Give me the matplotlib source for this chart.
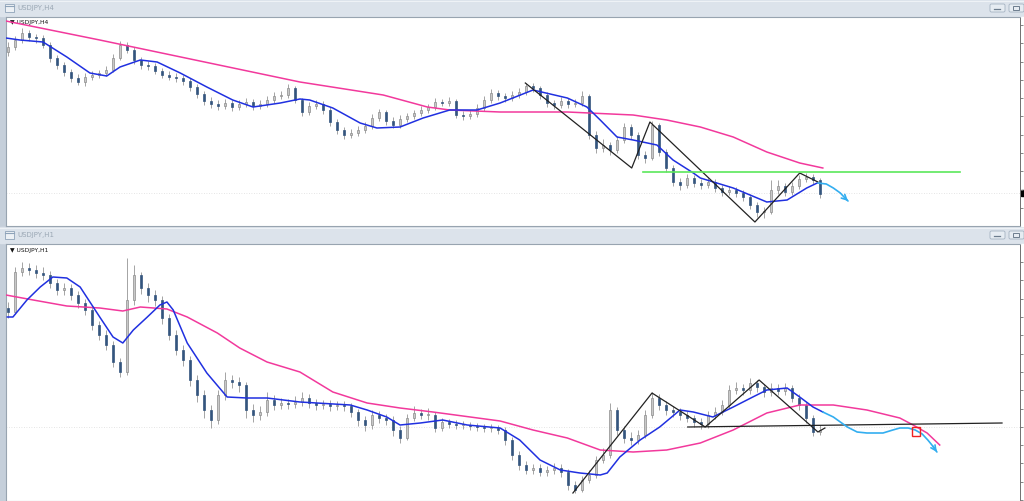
import numpy as np
import matplotlib
matplotlib.use('Agg')
import matplotlib.pyplot as plt
from matplotlib.patches import Rectangle, FancyBboxPatch

# ---------------- H4 window data (USDJPY) ----------------
h4_open0 = 116.48
h4_close = [116.53, 116.60, 116.67, 116.63, 116.62, 116.55, 116.42, 116.35, 116.28, 116.22,
            116.18, 116.23, 116.25, 116.27, 116.30, 116.42, 116.55, 116.50, 116.40, 116.35,
            116.34, 116.29, 116.25, 116.23, 116.22, 116.19, 116.13, 116.06, 115.99, 115.96,
            115.94, 115.97, 115.93, 115.96, 115.98, 115.94, 115.96, 116.00, 116.04, 116.05,
            116.12, 116.00, 115.88, 115.94, 115.96, 115.90, 115.78, 115.70, 115.65, 115.67,
            115.70, 115.74, 115.82, 115.88, 115.79, 115.75, 115.81, 115.84, 115.87, 115.90,
            115.93, 115.98, 115.97, 115.99, 115.85, 115.84, 115.86, 115.92, 116.00, 116.07,
            116.04, 116.02, 116.05, 116.08, 116.14, 116.12, 116.05, 115.97, 115.95, 115.99,
            115.96, 115.97, 116.04, 115.65, 115.52, 115.55, 115.50, 115.60, 115.73, 115.65,
            115.45, 115.42, 115.75, 115.48, 115.32, 115.18, 115.15, 115.22, 115.17, 115.15,
            115.18, 115.12, 115.08, 115.10, 115.07, 115.03, 114.95, 114.88, 114.88, 115.10,
            115.14, 115.08, 115.14, 115.21, 115.23, 115.20, 115.06]
h4_high = [116.58, 116.64, 116.72, 116.70, 116.66, 116.65, 116.58, 116.45, 116.38, 116.31,
           116.26, 116.27, 116.29, 116.30, 116.34, 116.46, 116.59, 116.58, 116.53, 116.43,
           116.39, 116.37, 116.32, 116.29, 116.27, 116.25, 116.22, 116.16, 116.09, 116.03,
           116.00, 116.01, 116.00, 116.00, 116.02, 116.01, 116.00, 116.04, 116.08, 116.09,
           116.16, 116.14, 116.02, 115.98, 116.00, 115.99, 115.93, 115.81, 115.73, 115.71,
           115.74, 115.78, 115.86, 115.91, 115.90, 115.83, 115.85, 115.87, 115.90, 115.94,
           115.96, 116.02, 116.01, 116.03, 116.01, 115.89, 115.90, 115.96, 116.04, 116.11,
           116.10, 116.07, 116.09, 116.12, 116.17, 116.17, 116.14, 116.08, 116.00, 116.03,
           116.02, 116.01, 116.09, 116.06, 115.69, 115.61, 115.58, 115.64, 115.77, 115.76,
           115.68, 115.49, 115.79, 115.77, 115.51, 115.35, 115.22, 115.26, 115.25, 115.21,
           115.22, 115.21, 115.15, 115.14, 115.13, 115.10, 115.06, 114.98, 114.93, 115.20,
           115.20, 115.17, 115.18, 115.25, 115.27, 115.26, 115.22]
h4_low = [116.44, 116.50, 116.57, 116.59, 116.57, 116.52, 116.38, 116.31, 116.24, 116.18,
          116.15, 116.14, 116.20, 116.22, 116.24, 116.28, 116.40, 116.47, 116.36, 116.31,
          116.30, 116.26, 116.22, 116.20, 116.18, 116.15, 116.09, 116.02, 115.95, 115.92,
          115.90, 115.91, 115.89, 115.90, 115.93, 115.90, 115.91, 115.93, 115.97, 116.01,
          116.02, 115.97, 115.84, 115.85, 115.91, 115.86, 115.74, 115.66, 115.61, 115.62,
          115.64, 115.67, 115.71, 115.79, 115.75, 115.72, 115.72, 115.78, 115.81, 115.84,
          115.87, 115.90, 115.94, 115.94, 115.82, 115.80, 115.81, 115.83, 115.89, 115.97,
          116.00, 115.98, 115.99, 116.02, 116.05, 116.08, 116.01, 115.93, 115.91, 115.92,
          115.92, 115.93, 115.94, 115.61, 115.47, 115.48, 115.45, 115.47, 115.57, 115.61,
          115.41, 115.37, 115.40, 115.44, 115.28, 115.14, 115.10, 115.12, 115.13, 115.11,
          115.12, 115.08, 115.04, 115.05, 115.03, 114.99, 114.91, 114.83, 114.82, 114.86,
          115.06, 115.04, 115.05, 115.11, 115.18, 115.16, 115.02]

# moving averages (bar index, price)
h4_slow_x = [-0.3, 13.1, 27.4, 41.7, 53.6, 59.9, 63.1, 70.3, 79.9, 89.3, 94.1, 98.9, 103.6, 108.4, 113.1, 116.4]
h4_slow = [116.79, 116.60, 116.39, 116.18, 116.05, 115.93, 115.90, 115.88, 115.88, 115.85, 115.80, 115.73,
           115.63, 115.48, 115.37, 115.32]
h4_fast_x = [-0.3, 1.7, 5.0, 8.4, 11.7, 14.1, 16.0, 18.9, 21.3, 24.6, 28.4, 32.1, 35.0, 38.9, 41.7, 43.1,
             46.4, 50.3, 52.7, 56.0, 59.3, 63.1, 67.0, 70.3, 75.0, 79.9, 82.7, 84.6, 87.0, 89.3, 92.7, 95.0,
             97.9, 98.9, 103.6, 108.4, 111.3, 114.1, 115.6]
h4_fast = [116.62, 116.60, 116.58, 116.43, 116.27, 116.24, 116.33, 116.40, 116.38, 116.27, 116.13, 116.00,
           115.93, 115.97, 116.01, 116.00, 115.92, 115.77, 115.72, 115.73, 115.82, 115.90, 115.90, 115.97,
           116.10, 116.02, 115.93, 115.80, 115.63, 115.60, 115.55, 115.40, 115.27, 115.22, 115.12, 114.98,
           115.00, 115.12, 115.17]

# drawings on the H4 chart
h4_zz_x = [73.9, 89.1, 91.7, 106.7, 113.1, 115.7]
h4_zz_y = [116.17, 115.32, 115.78, 114.78, 115.27, 115.18]
h4_level_x = [90.7, 136.0]
h4_level = 115.28
h4_arrow_x = [115.7, 116.9, 117.9, 118.9, 119.7, 120.0]
h4_arrow_y = [115.17, 115.16, 115.12, 115.07, 115.01, 114.99]
h4_last = 115.07

# ---------------- H1 window data ----------------
h1_open0 = 117.92
h1_close = [117.88, 118.28, 118.32, 118.30, 118.27, 118.25, 118.17, 118.10, 118.12, 118.05,
            117.97, 117.90, 117.75, 117.65, 117.55, 117.38, 117.28, 118.00, 118.25, 118.12,
            118.05, 118.00, 117.82, 117.65, 117.50, 117.40, 117.20, 117.05, 116.90, 116.80,
            117.05, 117.20, 117.18, 117.15, 116.90, 116.85, 116.88, 117.00, 116.95, 116.97,
            116.96, 116.98, 117.02, 116.97, 116.95, 116.96, 116.94, 116.95, 116.94, 116.88,
            116.80, 116.75, 116.85, 116.82, 116.80, 116.70, 116.62, 116.82, 116.87, 116.85,
            116.85, 116.72, 116.78, 116.76, 116.75, 116.75, 116.74, 116.73, 116.72, 116.72,
            116.70, 116.60, 116.45, 116.35, 116.30, 116.32, 116.28, 116.30, 116.32, 116.28,
            116.15, 116.10, 116.20, 116.25, 116.40, 116.45, 116.90, 116.70, 116.62, 116.60,
            116.65, 116.85, 117.02, 116.95, 116.90, 116.88, 116.85, 116.82, 116.78, 116.76,
            116.85, 116.88, 116.95, 117.10, 117.12, 117.10, 117.17, 117.13, 117.08, 117.12,
            117.09, 117.12, 117.02, 116.95, 116.82, 116.68, 116.70]
h1_high = [117.98, 118.33, 118.38, 118.37, 118.35, 118.33, 118.29, 118.21, 118.17, 118.16,
           118.09, 118.01, 117.94, 117.79, 117.70, 117.59, 117.42, 118.42, 118.35, 118.28,
           118.17, 118.10, 118.04, 117.86, 117.70, 117.55, 117.44, 117.25, 117.10, 116.95,
           117.10, 117.28, 117.25, 117.23, 117.18, 116.96, 116.94, 117.08, 117.05, 117.02,
           117.01, 117.04, 117.08, 117.06, 117.01, 117.00, 117.00, 116.99, 116.99, 116.97,
           116.91, 116.84, 116.90, 116.89, 116.86, 116.84, 116.74, 116.86, 116.94, 116.91,
           116.92, 116.88, 116.82, 116.81, 116.80, 116.79, 116.78, 116.77, 116.76, 116.76,
           116.75, 116.73, 116.63, 116.49, 116.39, 116.36, 116.36, 116.34, 116.37, 116.36,
           116.31, 116.19, 116.24, 116.30, 116.44, 116.52, 116.97, 116.93, 116.74, 116.68,
           116.70, 116.90, 117.08, 117.06, 116.99, 116.94, 116.92, 116.89, 116.85, 116.82,
           116.89, 116.93, 117.00, 117.15, 117.18, 117.16, 117.22, 117.20, 117.16, 117.17,
           117.16, 117.17, 117.15, 117.06, 116.98, 116.85, 116.75]
h1_low = [117.82, 117.86, 118.24, 118.25, 118.22, 118.20, 118.12, 118.05, 118.05, 118.00,
          117.92, 117.85, 117.70, 117.60, 117.50, 117.33, 117.23, 117.25, 117.95, 118.06,
          117.98, 117.94, 117.76, 117.60, 117.45, 117.34, 117.14, 116.98, 116.82, 116.72,
          116.76, 117.00, 117.12, 117.08, 116.82, 116.78, 116.80, 116.84, 116.90, 116.91,
          116.91, 116.92, 116.94, 116.92, 116.90, 116.91, 116.89, 116.90, 116.89, 116.83,
          116.74, 116.69, 116.71, 116.77, 116.75, 116.64, 116.57, 116.60, 116.79, 116.81,
          116.80, 116.68, 116.69, 116.72, 116.71, 116.71, 116.70, 116.69, 116.68, 116.68,
          116.66, 116.55, 116.40, 116.30, 116.26, 116.26, 116.24, 116.24, 116.26, 116.23,
          116.10, 116.07, 116.08, 116.17, 116.22, 116.37, 116.42, 116.65, 116.57, 116.55,
          116.56, 116.62, 116.82, 116.90, 116.85, 116.83, 116.80, 116.78, 116.73, 116.71,
          116.72, 116.81, 116.85, 116.92, 117.06, 117.05, 117.06, 117.08, 117.03, 117.04,
          117.05, 117.05, 116.98, 116.90, 116.77, 116.64, 116.65]

h1_slow_x = [-0.3, 3.6, 8.4, 13.1, 16.4, 18.9, 22.7, 25.6, 29.9, 33.1, 37.0, 41.7, 46.4, 51.3, 56.0, 60.7,
             70.3, 75.0, 79.9, 84.6, 89.3, 94.1, 98.9, 103.6, 108.4, 113.1, 117.9, 122.7, 127.4, 129.3,
             131.3, 133.1]
h1_slow = [118.05, 118.00, 117.94, 117.92, 117.89, 117.93, 117.91, 117.83, 117.67, 117.52, 117.38, 117.28,
           117.08, 116.97, 116.92, 116.88, 116.79, 116.70, 116.62, 116.50, 116.48, 116.50, 116.57, 116.70,
           116.87, 116.95, 116.95, 116.90, 116.82, 116.75, 116.67, 116.55]
h1_fast_x = [-0.1, 0.7, 2.7, 4.6, 6.4, 8.4, 10.3, 13.1, 15.0, 16.4, 17.9, 19.9, 21.7, 22.7, 23.6, 25.6,
             28.4, 31.3, 34.1, 37.0, 41.7, 48.9, 51.3, 54.1, 56.0, 58.9, 62.1, 65.6, 70.3, 73.1, 76.0, 78.9,
             81.7, 84.6, 85.6, 87.4, 90.3, 93.1, 96.0, 97.9, 100.7, 103.6, 106.4, 108.4, 111.3, 113.1,
             115.0, 116.4]
h1_fast = [117.83, 117.83, 118.00, 118.13, 118.23, 118.22, 118.13, 117.83, 117.63, 117.57, 117.70, 117.83,
           117.95, 117.98, 117.90, 117.57, 117.27, 117.03, 117.02, 117.02, 116.98, 116.95, 116.90, 116.83,
           116.75, 116.77, 116.80, 116.75, 116.72, 116.60, 116.40, 116.30, 116.27, 116.25, 116.27, 116.43,
           116.60, 116.73, 116.90, 116.88, 116.83, 116.93, 117.03, 117.10, 117.12, 117.03, 116.93, 116.88]

h1_zz_x = [80.7, 92.0, 99.6, 107.3, 115.7, 116.7]
h1_zz_y = [116.07, 117.07, 116.73, 117.20, 116.68, 116.72]
h1_neck_x = [97.1, 142.0]
h1_neck_y = [116.73, 116.77]
h1_arrow_x = [116.4, 117.9, 119.9, 121.3, 122.7, 125.0, 126.4, 127.4, 128.6, 129.6, 130.6, 131.4, 132.1, 132.7]
h1_arrow_y = [116.88, 116.83, 116.73, 116.68, 116.67, 116.67, 116.70, 116.72, 116.72, 116.70, 116.66, 116.60,
              116.54, 116.48]
h1_box = [129.1, 116.64, 1.15, 0.09]   # x, y, width, height
h1_last = 116.73

W, H = 1024, 501
BLUE = '#2030e0'
PINK = '#f2399c'
SKY = '#33aef0'


def place(x0, y0, x1, y1):
    # pixel box of the screenshot -> figure fraction
    return [x0 / W, 1 - y1 / H, (x1 - x0) / W, (y1 - y0) / H]


def candles(ax, open0, close, high, low):
    c = np.array(close)
    o = np.r_[open0, c[:-1]]
    x = np.arange(len(c))
    up = c >= o
    ax.vlines(x, low, high, color='#8c8c8c', lw=0.55, zorder=2)
    body = np.maximum(np.abs(c - o), 0.006)
    face = ['#c8c8c8' if u else '#34557e' for u in up]
    edge = ['#8c8c8c' if u else '#34557e' for u in up]
    ax.bar(x, body, bottom=np.minimum(o, c), width=0.38, color=face,
           edgecolor=edge, linewidth=0.5, zorder=3)


def style_chart(ax, ylim, ticks, label):
    ax.set_xlim(-0.29, 144.57)
    ax.set_ylim(*ylim)
    ax.set_facecolor('white')
    ax.set_xticks([])
    ax.yaxis.tick_right()
    ax.set_yticks(ticks)
    ax.tick_params(axis='y', direction='out', length=2.5, width=0.6,
                   colors='#707070', labelright=False)
    for s in ('left', 'top', 'bottom'):
        ax.spines[s].set_color('#98a4b0')
        ax.spines[s].set_linewidth(0.8)
    ax.spines['right'].set_color('#707070')
    ax.spines['right'].set_linewidth(0.7)
    ax.text(0.004, 0.985, '\u25bc ' + label, transform=ax.transAxes,
            fontsize=4.3, va='top', ha='left', color='#111111')


def sky_arrow(ax, xs, ys):
    ax.plot(xs, ys, color=SKY, lw=1.2, zorder=5, solid_capstyle='round')
    ax.annotate('', xy=(xs[-1], ys[-1]), xytext=(xs[-2], ys[-2]),
                arrowprops=dict(arrowstyle='->', color=SKY, lw=1.2,
                                mutation_scale=9, shrinkA=0, shrinkB=0), zorder=5)


fig = plt.figure(figsize=(W / 100, H / 100), dpi=100)

# window frames drawn in screen pixels
bg = fig.add_axes([0, 0, 1, 1])
bg.set_xlim(0, W)
bg.set_ylim(H, 0)
bg.axis('off')
bg.add_patch(Rectangle((0, 0), W, H, color='#c5cfda'))
for y0, name in ((0, 'USDJPY,H4'), (227, 'USDJPY,H1')):
    bg.add_patch(Rectangle((0, y0), W, 16, color='#dce3eb'))
    bg.plot([0, W], [y0 + 0.5, y0 + 0.5], color='#eef2f6', lw=0.8)
    bg.add_patch(Rectangle((5, y0 + 3.5), 9, 8, fc='#edf1f5', ec='#8ea3b9', lw=0.6))
    bg.plot([5, 14], [y0 + 5.5, y0 + 5.5], color='#8ea3b9', lw=0.8)
    bg.text(17, y0 + 8, name, fontsize=5, color='#9ba8b5', va='center', ha='left')
    for bx in (990, 1009):
        bg.add_patch(FancyBboxPatch((bx, y0 + 4), 15, 8,
                                    boxstyle='round,pad=0,rounding_size=1.5',
                                    fc='#e6ecf2', ec='#a5b3c2', lw=0.6))
    bg.plot([994, 1000], [y0 + 9, y0 + 9], color='#6d7d8e', lw=0.9)
    bg.add_patch(Rectangle((1013, y0 + 6), 6, 4, fc='none', ec='#6d7d8e', lw=0.7))
bg.add_patch(Rectangle((1020, 17), 4, 209, color='white'))
bg.add_patch(Rectangle((1020, 244), 4, 257, color='white'))
bg.add_patch(Rectangle((1021, 190), 3, 6, color='black'))

# ---------------- top chart: H4 ----------------
ax1 = fig.add_axes(place(6, 17, 1020, 226))
style_chart(ax1, (114.74, 116.83), np.linspace(114.92, 116.75, 11), 'USDJPY,H4')
ax1.axhline(h4_last, color='#dcdcdc', lw=0.6, ls=(0, (1, 2)), zorder=1)
candles(ax1, h4_open0, h4_close, h4_high, h4_low)
ax1.plot(h4_slow_x, h4_slow, color=PINK, lw=1.1, zorder=4)
ax1.plot(h4_fast_x, h4_fast, color=BLUE, lw=1.1, zorder=4)
ax1.plot(h4_zz_x, h4_zz_y, color='#222222', lw=0.9, zorder=5)
ax1.plot(h4_level_x, [h4_level, h4_level], color='#5be85b', lw=1.2, zorder=5)
sky_arrow(ax1, h4_arrow_x, h4_arrow_y)

# ---------------- bottom chart: H1 ----------------
ax2 = fig.add_axes(place(6, 244, 1020, 501))
style_chart(ax2, (115.99, 118.56), np.linspace(116.0, 116.0 + 13 * 0.183, 14), 'USDJPY,H1')
ax2.axhline(h1_last, color='#dcdcdc', lw=0.6, ls=(0, (1, 2)), zorder=1)
candles(ax2, h1_open0, h1_close, h1_high, h1_low)
ax2.plot(h1_slow_x, h1_slow, color=PINK, lw=1.1, zorder=4)
ax2.plot(h1_fast_x, h1_fast, color=BLUE, lw=1.1, zorder=4)
ax2.plot(h1_zz_x, h1_zz_y, color='#222222', lw=0.9, zorder=5)
ax2.plot(h1_neck_x, h1_neck_y, color='#222222', lw=0.9, zorder=5)
sky_arrow(ax2, h1_arrow_x, h1_arrow_y)
ax2.add_patch(Rectangle((h1_box[0], h1_box[1]), h1_box[2], h1_box[3],
                        fc='none', ec='#ee2222', lw=1.0, zorder=6))

fig.savefig('out.png', dpi=100)
